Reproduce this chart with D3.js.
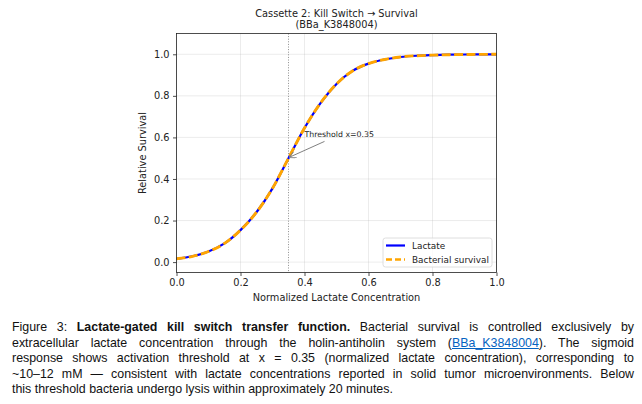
<!DOCTYPE html>
<html>
<head>
<meta charset="utf-8">
<script src="https://cdn.jsdelivr.net/npm/d3@7"></script>
<style>
  body { margin: 0; background: #fff; width: 642px; height: 404px; overflow: hidden; position: relative; }
  svg { position: absolute; left: 0; top: 0; }
  .cap { position: absolute; left: 12px; width: 622px; font-family: "Liberation Sans", Arial, sans-serif; font-size: 12.4px; color: #111; }
  .cap div { height: 15.5px; line-height: 15.5px; text-align: justify; text-align-last: justify; white-space: nowrap; }
  .cap div.last { text-align-last: left; }
  .cap a { color: #0563c1; text-decoration: underline; }
</style>
</head>
<body>
<script>
// values
var xs = [0, 0.05, 0.1, 0.15, 0.2, 0.25, 0.3, 0.35, 0.4, 0.45, 0.5, 0.55, 0.6, 0.65, 0.7, 0.75, 0.8, 0.85, 0.9, 0.95, 1.0];
var survival = [0.016, 0.028, 0.051, 0.09, 0.154, 0.24, 0.355, 0.5, 0.645, 0.765, 0.857, 0.92, 0.955, 0.975, 0.987, 0.993, 0.996, 0.998, 0.999, 0.9995, 1.0];
var lactate = survival.slice(); // same curve, drawn underneath
var xTicks = [0, 0.2, 0.4, 0.6, 0.8, 1.0];
var yTicks = [0, 0.2, 0.4, 0.6, 0.8, 1.0];
var threshold = 0.35;
var titleLines = ["Cassette 2: Kill Switch \u2192 Survival", "(BBa_K3848004)"];
var legendLabels = ["Lactate", "Bacterial survival"];

var W = 642, H = 310;
// plot box (window.top is read-only, so use own names)
var pL = 176.5, pR = 496.5, pT = 33.5, pB = 272.5;
var font = "DejaVu Sans, sans-serif";

var svg = d3.select("body").append("svg").attr("width", W).attr("height", H);

var x = d3.scaleLinear().domain([0, 1]).range([pL, pR]);
var y = d3.scaleLinear().domain([-0.05, 1.1]).range([pB, pT]);

// grid
svg.append("g").selectAll("line").data(xTicks).enter().append("line")
  .attr("x1", function(d){ return x(d); }).attr("x2", function(d){ return x(d); })
  .attr("y1", pT).attr("y2", pB)
  .attr("stroke", "#b0b0b0").attr("stroke-opacity", 0.3).attr("stroke-width", 0.8);
svg.append("g").selectAll("line").data(yTicks).enter().append("line")
  .attr("y1", function(d){ return y(d); }).attr("y2", function(d){ return y(d); })
  .attr("x1", pL).attr("x2", pR)
  .attr("stroke", "#b0b0b0").attr("stroke-opacity", 0.3).attr("stroke-width", 0.8);

// threshold line
svg.append("line")
  .attr("x1", x(threshold)).attr("x2", x(threshold)).attr("y1", pT).attr("y2", pB)
  .attr("stroke", "#808080").attr("stroke-width", 0.9).attr("stroke-dasharray", "1,1.6");

var line = d3.line()
  .x(function(d, i){ return x(xs[i]); })
  .y(function(d){ return y(d); })
  .curve(d3.curveMonotoneX);

svg.append("path").datum(lactate).attr("d", line)
  .attr("fill", "none").attr("stroke", "#0000ff").attr("stroke-width", 2.2);
svg.append("path").datum(survival).attr("d", line)
  .attr("fill", "none").attr("stroke", "#ffa500").attr("stroke-width", 2.9)
  .attr("stroke-dasharray", "9,3.4");

// axes
var xAxis = svg.append("g").attr("transform", "translate(0," + pB + ")")
  .call(d3.axisBottom(x).tickValues(xTicks).tickFormat(d3.format(".1f")).tickSize(3.5).tickPadding(3.5));
var yAxis = svg.append("g").attr("transform", "translate(" + pL + ",0)")
  .call(d3.axisLeft(y).tickValues(yTicks).tickFormat(d3.format(".1f")).tickSize(3.5).tickPadding(3.5));
[xAxis, yAxis].forEach(function(g){
  g.select(".domain").remove();
  g.selectAll("line").attr("stroke", "#222").attr("stroke-width", 0.8);
  g.selectAll("text").attr("font-family", font).attr("font-size", 9.8).attr("fill", "#222");
});

svg.append("rect").attr("x", pL).attr("y", pT).attr("width", pR - pL).attr("height", pB - pT)
  .attr("fill", "none").attr("stroke", "#222").attr("stroke-width", 0.8);

// labels
svg.append("text").attr("x", (pL + pR) / 2).attr("y", 301).attr("text-anchor", "middle")
  .attr("font-family", font).attr("font-size", 9.8).attr("fill", "#222").text("Normalized Lactate Concentration");
svg.append("text").attr("transform", "translate(146," + ((pT + pB) / 2) + ") rotate(-90)")
  .attr("text-anchor", "middle").attr("font-family", font).attr("font-size", 9.8).attr("fill", "#222")
  .text("Relative Survival");
svg.selectAll(".title").data(titleLines).enter().append("text")
  .attr("x", (pL + pR) / 2).attr("y", function(d, i){ return 16.5 + i * 11.5; })
  .attr("text-anchor", "middle").attr("font-family", font).attr("font-size", 9.8).attr("fill", "#222")
  .text(function(d){ return d; });

// annotation
var ax = x(threshold), ay = y(0.5);
var tx = x(0.4), ty = y(0.6);
svg.append("defs").append("marker").attr("id", "arr").attr("viewBox", "0 0 10 10")
  .attr("refX", 9).attr("refY", 5).attr("markerWidth", 7).attr("markerHeight", 7)
  .attr("markerUnits", "userSpaceOnUse").attr("orient", "auto")
  .append("path").attr("d", "M0,0 L10,5 L0,10").attr("fill", "none").attr("stroke", "#808080").attr("stroke-width", 1.3);
svg.append("line").attr("x1", tx + 20).attr("y1", ty + 4).attr("x2", ax + 1).attr("y2", ay - 1)
  .attr("stroke", "#808080").attr("stroke-width", 1).attr("marker-end", "url(#arr)");
svg.append("text").attr("x", tx).attr("y", ty).attr("font-family", font).attr("font-size", 7.8)
  .attr("fill", "#222").text("Threshold x=" + threshold);

// legend
var lg = svg.append("g").attr("transform", "translate(383,238)");
lg.append("rect").attr("width", 109).attr("height", 29).attr("rx", 2.5)
  .attr("fill", "#fff").attr("fill-opacity", 0.8).attr("stroke", "#d5d5d5").attr("stroke-width", 0.8);
var colors = ["#0000ff", "#ffa500"];
var dashes = [null, "6,3"];
legendLabels.forEach(function(lab, i){
  var yy = 7.5 + i * 14;
  lg.append("line").attr("x1", 3).attr("x2", 22).attr("y1", yy).attr("y2", yy)
    .attr("stroke", colors[i]).attr("stroke-width", i ? 2.6 : 2.2).attr("stroke-dasharray", dashes[i]);
  lg.append("text").attr("x", 29).attr("y", yy + 3.2).attr("font-family", font).attr("font-size", 8.9)
    .attr("fill", "#222").text(lab);
});

// caption
var capLines = [
  'Figure 3: <b>Lactate-gated kill switch transfer function.</b> Bacterial survival is controlled exclusively by',
  'extracellular lactate concentration through the holin-antiholin system (<a href="#">BBa_K3848004</a>). The sigmoid',
  'response shows activation threshold at x = 0.35 (normalized lactate concentration), corresponding to',
  '~10\u201312 mM \u2014 consistent with lactate concentrations reported in solid tumor microenvironments. Below',
  'this threshold bacteria undergo lysis within approximately 20 minutes.'
];
var cap = d3.select("body").append("div").attr("class", "cap").style("top", "320px");
cap.selectAll("div").data(capLines).enter().append("div")
  .attr("class", function(d, i){ return i === capLines.length - 1 ? "last" : null; })
  .html(function(d){ return d; });
</script>
</body>
</html>
